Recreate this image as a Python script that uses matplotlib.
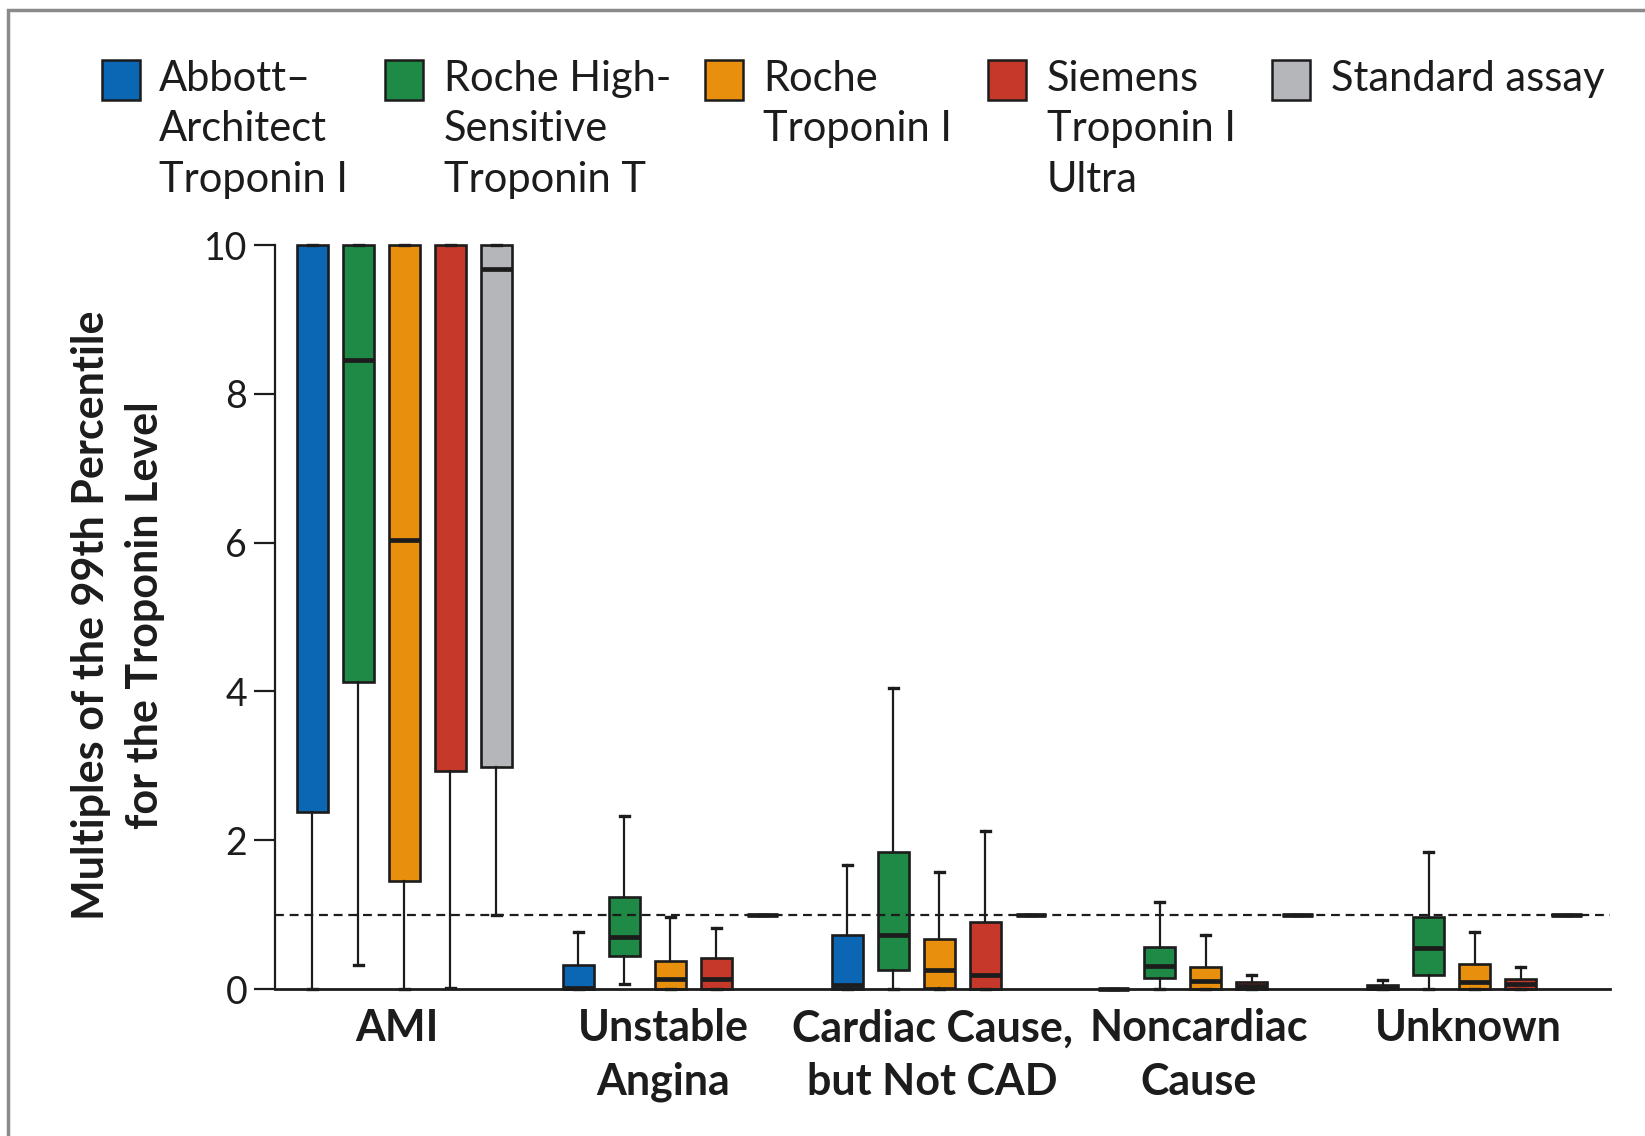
import numpy as np
import matplotlib
matplotlib.use("Agg")
import matplotlib.pyplot as plt
from matplotlib.patches import Rectangle

plt.rcParams["font.family"] = ["Lato", "DejaVu Sans"]

W, H = 1645, 1136

groups = ["AMI", "Unstable\nAngina", "Cardiac Cause,\nbut Not CAD", "Noncardiac\nCause", "Unknown"]
assays = ["Abbott–\nArchitect\nTroponin I", "Roche High-\nSensitive\nTroponin T",
          "Roche\nTroponin I", "Siemens\nTroponin I\nUltra", "Standard assay"]
colors = ["#0b67b3", "#1f8a45", "#e8900e", "#c5382a", "#b4b6b9"]

# box stats per assay, one value per group; AMI boxes run off the 10x scale
# (nan = median above the plotted range)
nan = np.nan
abbott_q1 = [2.38, 0.0, 0.0, 0.0, 0.0]
abbott_med = [nan, 0.02, 0.06, 0.0, 0.02]
abbott_q3 = [10.0, 0.32, 0.73, 0.0, 0.06]
abbott_lo = [0.0, 0.0, 0.0, 0.0, 0.0]
abbott_hi = [10.0, 0.77, 1.67, 0.0, 0.12]

rocheT_q1 = [4.12, 0.45, 0.26, 0.15, 0.19]
rocheT_med = [8.46, 0.70, 0.73, 0.31, 0.55]
rocheT_q3 = [10.0, 1.23, 1.84, 0.56, 0.97]
rocheT_lo = [0.32, 0.07, 0.0, 0.0, 0.0]
rocheT_hi = [10.0, 2.33, 4.05, 1.17, 1.84]

rocheI_q1 = [1.45, 0.0, 0.02, 0.0, 0.0]
rocheI_med = [6.03, 0.13, 0.26, 0.11, 0.10]
rocheI_q3 = [10.0, 0.38, 0.67, 0.30, 0.33]
rocheI_lo = [0.0, 0.0, 0.0, 0.0, 0.0]
rocheI_hi = [10.0, 0.97, 1.57, 0.73, 0.76]

siemens_q1 = [2.93, 0.0, 0.0, 0.0, 0.0]
siemens_med = [nan, 0.13, 0.19, 0.04, 0.07]
siemens_q3 = [10.0, 0.42, 0.90, 0.09, 0.14]
siemens_lo = [0.02, 0.0, 0.0, 0.0, 0.0]
siemens_hi = [10.0, 0.82, 2.12, 0.19, 0.29]

standard_q1 = [2.98, 1.0, 1.0, 1.0, 1.0]
standard_med = [9.68, 1.0, 1.0, 1.0, 1.0]
standard_q3 = [10.0, 1.0, 1.0, 1.0, 1.0]
standard_lo = [1.0, 1.0, 1.0, 1.0, 1.0]
standard_hi = [10.0, 1.0, 1.0, 1.0, 1.0]

series = [
    (abbott_q1, abbott_med, abbott_q3, abbott_lo, abbott_hi),
    (rocheT_q1, rocheT_med, rocheT_q3, rocheT_lo, rocheT_hi),
    (rocheI_q1, rocheI_med, rocheI_q3, rocheI_lo, rocheI_hi),
    (siemens_q1, siemens_med, siemens_q3, siemens_lo, siemens_hi),
    (standard_q1, standard_med, standard_q3, standard_lo, standard_hi),
]

reference_line = 1.0

# layout in pixels of the 1645x1136 figure
group_centers = [404, 670, 939, 1206, 1475]
label_shift = -7
box_step = 46
box_width = 31


def fx(px):
    return px / W


def fy(py):
    return 1 - py / H


fig = plt.figure(figsize=(W / 100, H / 100), dpi=100)
ax = fig.add_axes([fx(275), fy(989), fx(1610) - fx(275), fy(245) - fy(989)])

ink = "#1c1c1c"
for i, (q1, med, q3, lo, hi) in enumerate(series):
    stats = []
    for g in range(len(groups)):
        stats.append({"q1": q1[g], "med": med[g], "q3": q3[g],
                      "whislo": lo[g], "whishi": hi[g], "fliers": []})
    pos = [c + (i - 2) * box_step for c in group_centers]
    art = ax.bxp(stats, positions=pos, widths=box_width, patch_artist=True,
                 showfliers=False, manage_ticks=False, capwidths=9,
                 boxprops=dict(facecolor=colors[i], edgecolor=ink, linewidth=1.9),
                 medianprops=dict(color=ink, linewidth=3.4, solid_capstyle="butt"),
                 whiskerprops=dict(color=ink, linewidth=1.6),
                 capprops=dict(color=ink, linewidth=2.4))
    for key in art:
        for a in art[key]:
            a.set_clip_on(False)

ax.axhline(reference_line, color=ink, linewidth=1.6, linestyle=(0, (4, 2.6)), zorder=4)

ax.set_xlim(275, 1610)
ax.set_ylim(0, 10)
ax.spines["top"].set_visible(False)
ax.spines["right"].set_visible(False)
ax.spines["left"].set_linewidth(1.6)
ax.spines["bottom"].set_linewidth(2.0)
ax.spines["left"].set_color(ink)
ax.spines["bottom"].set_color(ink)

ax.set_yticks([0, 2, 4, 6, 8, 10])
ax.tick_params(axis="y", length=15, width=1.6, pad=5, labelsize=27, colors=ink)
ax.set_xticks([c + label_shift for c in group_centers])
ax.set_xticklabels(groups, fontsize=31, fontweight="bold", linespacing=1.4)
ax.tick_params(axis="x", length=0, pad=14, colors=ink)

fig.text(fx(118), fy(615), "Multiples of the 99th Percentile\nfor the Troponin Level",
         rotation=90, ha="center", va="center", fontsize=31, fontweight="bold",
         linespacing=1.4, color=ink)

# legend, drawn by hand so the squares sit on the first text line
square_x = [102, 385, 705, 988, 1272]
text_x = [159, 444, 763, 1047, 1331]
for i, name in enumerate(assays):
    fig.add_artist(Rectangle((fx(square_x[i]), fy(100)), fx(38), fy(60) - fy(100),
                             transform=fig.transFigure, facecolor=colors[i],
                             edgecolor=ink, linewidth=1.8))
    fig.text(fx(text_x[i]), fy(60), name, ha="left", va="top", fontsize=30,
             linespacing=1.4, color=ink)

# grey frame around the panel (its right and bottom sides fall outside)
fig.add_artist(Rectangle((fx(8), -0.1), 1.2, fy(10) + 0.1, transform=fig.transFigure,
                         fill=False, edgecolor="#8a8a8a", linewidth=2.5))

fig.savefig("out.png", dpi=100)
